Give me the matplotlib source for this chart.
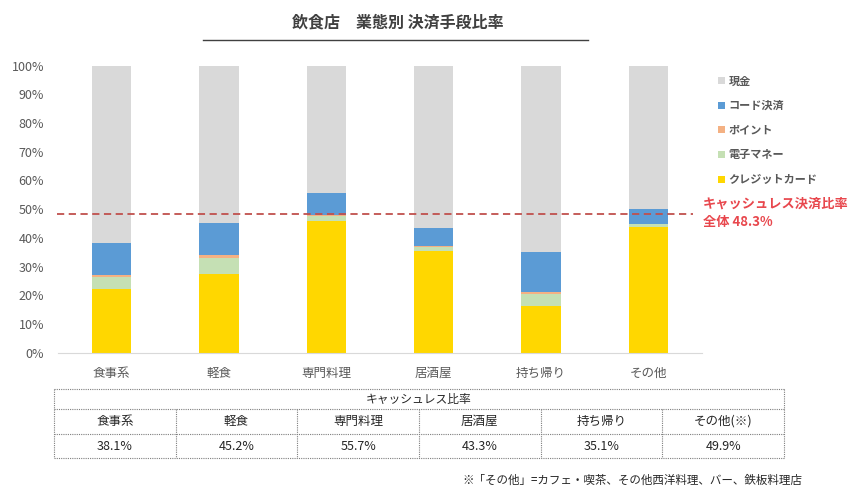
import matplotlib
matplotlib.use("Agg")
import matplotlib.pyplot as plt
import numpy as np

plt.rcParams['font.family'] = ['Noto Sans CJK JP', 'DejaVu Sans']

categories = ['食事系', '軽食', '専門料理', '居酒屋', '持ち帰り', 'その他']
credit = [22.3, 27.5, 45.8, 35.6, 16.3, 43.8]
emoney = [4.2, 5.6, 2.0, 1.2, 4.3, 0.9]
point = [0.6, 0.9, 0.3, 0.3, 0.5, 0.3]
code = [11.0, 11.2, 7.6, 6.2, 14.0, 4.9]
cashless_total = [38.1, 45.2, 55.7, 43.3, 35.1, 49.9]
overall = 48.3

table_names = ['食事系', '軽食', '専門料理', '居酒屋', '持ち帰り', 'その他(※)']
table_values = ['38.1%', '45.2%', '55.7%', '43.3%', '35.1%', '49.9%']

series = [('クレジットカード', credit, '#FFD700'),
          ('電子マネー', emoney, '#C5E0B4'),
          ('ポイント', point, '#F4B183'),
          ('コード決済', code, '#5B9BD5')]
cash = [100 - t for t in cashless_total]

W, H = 859, 495
fig = plt.figure(figsize=(W / 100, H / 100), dpi=100)

def px_axes(x0, y0, x1, y1):
    # pixel box (top-left origin) -> figure axes
    return fig.add_axes([x0 / W, 1 - y1 / H, (x1 - x0) / W, (y1 - y0) / H])

ax = px_axes(58, 65.7, 702, 352.7)
x = np.arange(len(categories))
bottom = np.zeros(len(categories))
handles = {}
for name, vals, col in series:
    b = ax.bar(x, vals, 0.365, bottom=bottom, color=col, label=name)
    handles[name] = b
    bottom += np.array(vals)
handles['現金'] = ax.bar(x, cash, 0.365, bottom=bottom, color='#D9D9D9', label='現金')

ax.set_xlim(-0.5, len(categories) - 0.5)
ax.set_ylim(0, 100)
ax.set_yticks(np.arange(0, 101, 10))
ax.set_yticklabels([f'{v}%' for v in range(0, 101, 10)])
ax.set_xticks(x)
ax.set_xticklabels(categories)
ax.tick_params(axis='both', length=0, colors='#595959', labelsize=9)
ax.tick_params(axis='y', pad=10)
ax.tick_params(axis='x', pad=10)
for s in ['top', 'right', 'left']:
    ax.spines[s].set_visible(False)
ax.spines['bottom'].set_color('#D9D9D9')

ax.hlines(overall, -0.51, 5.42, colors='#C0504D', linestyles=(0, (4, 2.5)),
          linewidth=1.3, clip_on=False, zorder=5)
ax.text(703 / W, 1 - 204 / H, 'キャッシュレス決済比率', transform=fig.transFigure,
        color='#E8474D', fontsize=9.5, fontweight='bold', va='center', ha='left')
ax.text(703 / W, 1 - 222 / H, f'全体 {overall}%', transform=fig.transFigure,
        color='#E8474D', fontsize=9.5, fontweight='bold', va='center', ha='left')

order = ['現金', 'コード決済', 'ポイント', '電子マネー', 'クレジットカード']
leg = fig.legend([handles[k] for k in order], order, loc='upper left',
                 bbox_to_anchor=(714 / W, 1 - 70 / H), frameon=False,
                 fontsize=8, handlelength=0.6, handleheight=0.6,
                 handletextpad=0.3, labelspacing=1.05, borderaxespad=0)
for t in leg.get_texts():
    t.set_color('#595959')
    t.set_fontweight('bold')

# title
fig.text(398 / W, 1 - 22 / H, '飲食店　業態別 決済手段比率', ha='center', va='center',
         fontsize=11.5, fontweight='bold', color='#404040')
fig.add_artist(plt.Line2D([203 / W, 588 / W], [1 - 40 / H, 1 - 40 / H],
                          color='#404040', linewidth=1))

# table
tx0, tx1 = 54, 784
rows = [389, 409, 434, 458]
tax = px_axes(tx0, rows[0], tx1, rows[-1])
tax.set_xlim(tx0, tx1)
tax.set_ylim(rows[-1], rows[0])
tax.axis('off')
ls = dict(color='#7F7F7F', linewidth=0.8, linestyle=(0, (1, 1)), clip_on=False)
for r in rows:
    tax.plot([tx0, tx1], [r, r], **ls)
colw = (tx1 - tx0) / len(table_names)
for i in range(len(table_names) + 1):
    xc = tx0 + i * colw
    top = rows[0] if i in (0, len(table_names)) else rows[1]
    tax.plot([xc, xc], [top, rows[-1]], **ls)
tax.text((tx0 + tx1) / 2, (rows[0] + rows[1]) / 2, 'キャッシュレス比率',
         ha='center', va='center', fontsize=8.5, color='#262626')
for i, (n, v) in enumerate(zip(table_names, table_values)):
    xc = tx0 + (i + 0.5) * colw
    tax.text(xc, (rows[1] + rows[2]) / 2, n, ha='center', va='center',
             fontsize=9, color='#262626')
    tax.text(xc, (rows[2] + rows[3]) / 2, v, ha='center', va='center',
             fontsize=9, color='#262626')

fig.text(802 / W, 1 - 480 / H, '※「その他」=カフェ・喫茶、その他西洋料理、バー、鉄板料理店',
         ha='right', va='center', fontsize=8.3, color='#262626')

fig.savefig('out.png', dpi=100)
